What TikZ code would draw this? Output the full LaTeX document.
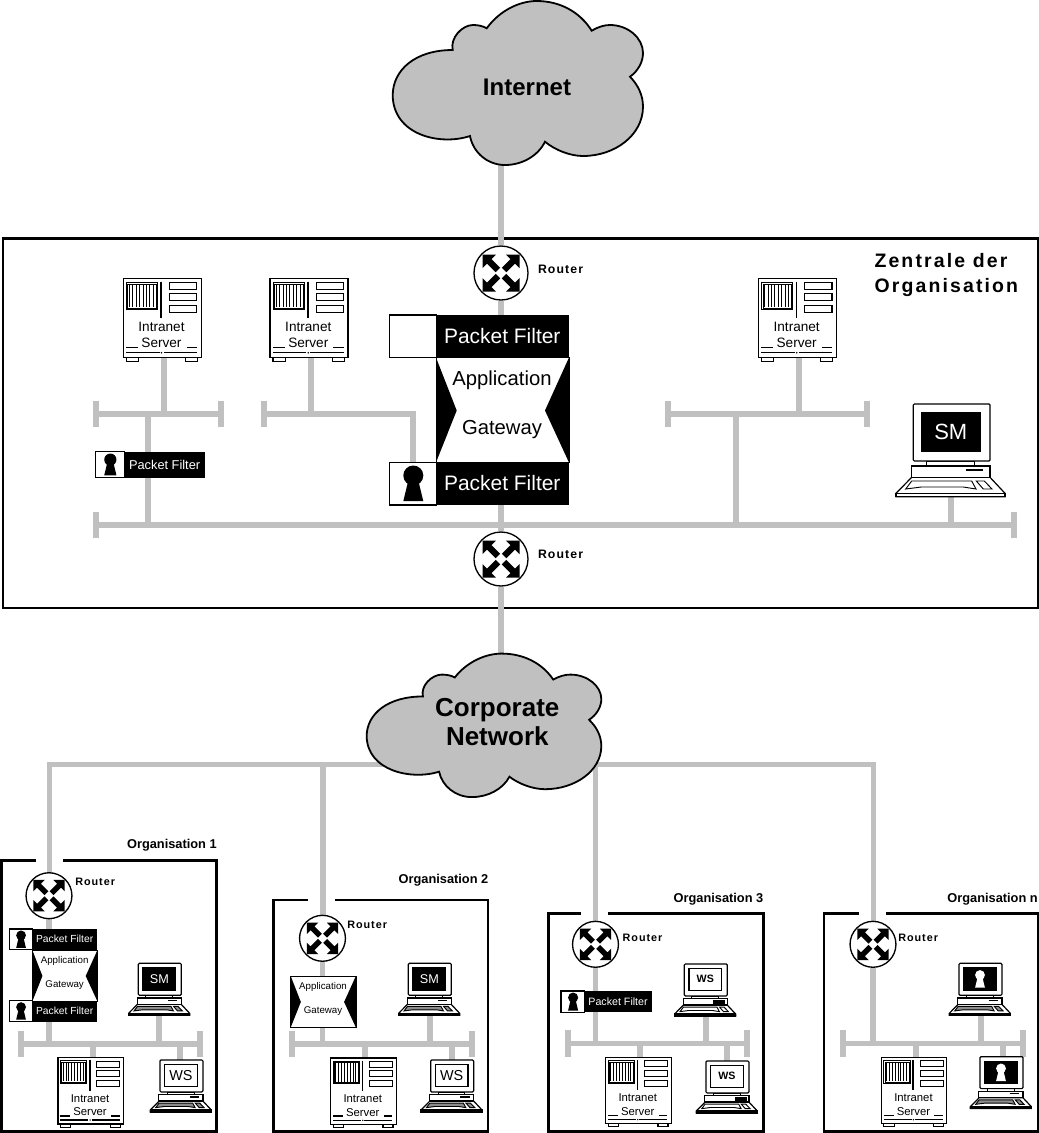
\documentclass[tikz,border=0pt]{standalone}
\usepackage{fontspec}
\setmainfont{Liberation Sans}
\usetikzlibrary{backgrounds}
\definecolor{netgray}{HTML}{C0C0C0}
\tikzset{
  net/.style={draw=netgray,line width=4.3pt},
  dev/.style={line width=.9pt,draw=black},
  frameline/.style={draw=black,line width=1.9pt},
  txt/.style={inner sep=0pt,outer sep=0pt},
  labelR/.style={txt,font=\fontsize{#1}{#1}\selectfont\bfseries\addfontfeature{LetterSpace=9}},
  orgt/.style={txt,anchor=east,font=\fontsize{9.6}{11}\selectfont\bfseries},
}
\newcommand\Fs[1]{\fontsize{#1}{#1}\selectfont}
\newcommand\Keyhole[1]{%
  \fill[#1] (0,-8) circle [radius=10];
  \fill[#1] (-5,-3) -- (5,-3) -- (10,17.7) -- (-10,17.7) -- cycle;}
% name,x,y,scale,font,with keyhole(1/0)
\newcommand\PF[6]{%
  \begin{scope}[shift={(#2,#3)},scale=#4]
    \fill[black] (47,0) rectangle (179.5,42.5);
    \draw[dev,fill=white] (0,0) rectangle (47,42.5);
    \node[txt,white,font=\Fs{#5}] (#1) at (113,21) {Packet Filter};
    \ifnum#6=1 \begin{scope}[shift={(24,21)}]\Keyhole{black}\end{scope}\fi
  \end{scope}}
% name,x,y,scale,font
\newcommand\Gate[5]{%
  \begin{scope}[shift={(#2,#3)},scale=#4]
    \draw[line width=.5pt,draw=black,fill=white] (0,0) rectangle (133,105);
    \fill[black] (0,0) -- (20.7,53) -- (0,105) -- cycle;
    \fill[black] (133,0) -- (109,53) -- (133,105) -- cycle;
    \node[txt,font=\Fs{#5}] (#1-a) at (66,23) {Application};
    \node[txt,font=\Fs{#5}] (#1-g) at (66,72) {Gateway};
  \end{scope}}
% name,x,y,scale
\newcommand\Router[4]{%
  \node[circle,draw=black,line width=1pt,fill=white,inner sep=0pt,minimum size={#4*40.5pt}] (#1) at (#2,#3) {};
  \begin{scope}[shift={(#2,#3)},scale=#4]
    \foreach \a in {0,90,180,270}
      \fill[black,rotate=\a] (18.5,-18.5) -- (5,-18.5) -- (9.5,-14) -- (.8,-5.3) -- (5.3,-.8) -- (14,-9.5) -- (18.5,-5) -- cycle;
  \end{scope}}
% name,x,y,scale,font
\newcommand\Server[5]{%
  \begin{scope}[shift={(#2,#3)},scale=#4]
    \draw[dev,fill=white] (3.7,79) rectangle (16,83.5);
    \draw[dev,fill=white] (63,79) rectangle (75,83.5);
    \node[draw=black,line width=.9pt,fill=white,inner sep=0pt,anchor=north west,minimum width={#4*58.5pt},minimum height={#4*59.2pt}] (#1) at (0,0) {};
    \draw[line width=.7pt] (3.7,4.7) rectangle (35,31.3);
    \draw[line width=.3pt] (5,6) rectangle (33.7,30);
    \foreach \xx in {7,10.4,13.8,17.2,20.6,24,27.4,30.8}
      \draw[line width={#4*.8pt}] (\xx,7) -- (\xx,29);
    \draw[line width=1.1pt] (38.7,4) -- (38.7,40);
    \draw[dev,line width=.8pt] (47,5) rectangle (74.3,12);
    \draw[dev,line width=.8pt] (47,16) rectangle (74.3,23);
    \draw[dev,line width=.8pt] (47,28) rectangle (74.3,35);
    \node[txt,font=\Fs{#5}] (#1-a) at (39,49) {Intranet};
    \node[txt,font=\Fs{#5}] (#1-b) at (39,65.5) {Server};
    \draw[line width=1.1pt] (3.7,70) -- (15.5,70) (64,70) -- (74.3,70);
    \draw[line width=1.1pt] (3.7,75) -- (37,75) (41,75) -- (74.3,75);
    \fill (39,75) circle [radius=.9];
  \end{scope}}
% name,x,y,scale,screen fill,band fill,content
\newcommand\PC[7]{%
  \begin{scope}[shift={(#2,#3)},scale=#4]
    \draw[dev,fill=white] (-17.3,89.3) -- (-1.6,73.3) -- (76.7,73.3) -- (91.7,89.3) -- (91.7,92.7) -- (-17.3,92.7) -- cycle;
    \draw[dev,fill=#6] (-17.3,89.3) -- (91.7,89.3) -- (91.7,92.7) -- (-17.3,92.7) -- cycle;
    \draw[dev,line width=.7pt,fill=#6!45] (-7.6,85) -- (-1.6,77) -- (58.4,77) -- (62.7,85) -- (50,83) -- (8,83) -- cycle;
    \draw[dev,line width=.7pt,fill=#6!45] (63,77) -- (71,77) -- (78.7,85) -- (70,85) -- cycle;
    \draw[dev,fill=white] (13.4,57) rectangle (61,62);
    \draw[dev,fill=white] (-2,62) rectangle (76.7,73.3);
    \draw[line width=.9pt] (52.7,66) -- (69.7,66);
    \draw[dev,fill=white,rounded corners=.8pt] (0,0) rectangle (76.7,57);
    \draw[dev,fill=#5] (8.4,8.3) rectangle (66.7,47.7);
    \coordinate (#1-top) at (37.5,0);
    \coordinate (#1-bot) at (37.5,92.7);
    #7
  \end{scope}}
\newcommand\CloudPath{%
  (470,136) .. controls (440,146) and (393,135) .. (392.7,95)
  .. controls (393,70) and (415,50) .. (452.7,50)
  .. controls (450,38) and (462,25) .. (473,25)
  .. controls (478,25) and (483,26) .. (486.7,28.3)
  .. controls (500,10) and (520,1) .. (536.7,1)
  .. controls (560,1) and (580,12) .. (591.7,30.7)
  .. controls (598,27) and (604,25) .. (610,25)
  .. controls (628,25) and (643,38) .. (643,53)
  .. controls (643,62) and (638,71) .. (630,76.7)
  .. controls (638,85) and (643,95) .. (643,106.7)
  .. controls (643,135) and (615,156) .. (583,156)
  .. controls (570,156) and (555,150) .. (545,141.7)
  .. controls (538,156) and (522,165) .. (505,165)
  .. controls (487,165) and (473,152) .. (470,136) -- cycle}
\newcommand\Bus[4]{%
  \coordinate (#1-l) at (#2,#4);
  \coordinate (#1-r) at (#3,#4);}
\newcommand\DrawBus[1]{%
  \draw[net] (#1-l) -- (#1-r);
  \draw[net] ([yshift=10pt]#1-l) -- ([yshift=-10pt]#1-l);
  \draw[net] ([yshift=10pt]#1-r) -- ([yshift=-10pt]#1-r);}
\begin{document}
\begin{tikzpicture}[x=.75pt,y=-.75pt]
\useasboundingbox (0,0) rectangle (1039,1133);

% --- clouds
\path[draw=black,line width=1.35pt,fill=netgray] \CloudPath;
\node[txt,font=\Fs{18}\bfseries] (internet) at (527,87) {Internet};
\coordinate (inet-bot) at (501,160);
\begin{scope}[shift={(-1.5,652.7)},xscale=.9375,yscale=.875]
  \path[draw=black,line width=1.35pt,fill=netgray] \CloudPath;
\end{scope}
\node[txt,align=center,font=\fontsize{19.5}{21.5}\selectfont\bfseries] (corporate) at (497.3,722) {Corporate\\Network};
\coordinate (corp-top) at (501,660);

% --- central site
\node[txt,anchor=west,align=left,font=\fontsize{14.6}{18.3}\selectfont\bfseries\addfontfeature{LetterSpace=11}] (zentrale) at (874.5,275) {Zentrale der\\Organisation};
\Router{r1}{501}{273}{1}
\node[labelR=9.2,anchor=west] (r1l) at (538,269.5) {Router};
\Router{r2}{501}{559}{1}
\node[labelR=9.2,anchor=west] (r2l) at (538,554) {Router};
\Server{s1}{122.5}{277.7}{1}{10.2}
\Server{s2}{269.3}{277.7}{1}{10.2}
\Server{s3}{757.7}{277.7}{1}{10.2}
\PF{pf1}{389.3}{315}{1}{15.7}{0}
\Gate{gw1}{436}{357.5}{1}{15.2}
\PF{pf2}{389.3}{462.5}{1}{15.7}{1}
\PF{pf3}{95.7}{451.7}{.61}{9.6}{1}
\PC{sm0}{913.3}{404}{1}{black}{white}{\node[txt,white,font=\Fs{16.5}] (sm0t) at (37.5,28) {SM};}

% --- organisation 1
\node[orgt] (o1t) at (216.7,845.7) {Organisation 1};
\Router{r3}{49}{895.7}{.85}
\node[labelR=8.1,anchor=west] (r3l) at (75.3,881.7) {Router};
\PF{pf4}{9.3}{929}{.49}{7.7}{1}
\Gate{gw2}{32.3}{950}{.49}{7.3}
\PF{pf5}{9.3}{1000.7}{.49}{7.7}{1}
\PC{sm1}{138.3}{963.3}{.56}{black}{black}{\node[txt,white,font=\Fs{9.5}] (sm1t) at (37.5,28) {SM};}
\Server{s4}{57.3}{1057}{.84}{8.5}
\PC{ws1}{160}{1060}{.56}{white}{black}{\node[txt,font=\Fs{10.8}] (ws1t) at (37.5,28) {WS};}

% --- organisation 2
\node[orgt] (o2t) at (488.3,880.7) {Organisation 2};
\Router{r4}{322.5}{938.3}{.85}
\node[labelR=8.1,anchor=west] (r4l) at (347.3,925) {Router};
\Gate{gw3}{290.7}{976}{.49}{7.3}
\PC{sm2}{408.3}{963.3}{.56}{black}{black}{\node[txt,white,font=\Fs{9.5}] (sm2t) at (37.5,28) {SM};}
\Server{s5}{330}{1057.3}{.84}{8.5}
\PC{ws2}{430.7}{1060}{.56}{white}{black}{\node[txt,font=\Fs{10.8}] (ws2t) at (37.5,28) {WS};}

% --- organisation 3
\node[orgt] (o3t) at (763.3,899) {Organisation 3};
\Router{r5}{595.5}{944.3}{.85}
\node[labelR=8.1,anchor=west] (r5l) at (622.7,938.3) {Router};
\PF{pf6}{561}{991}{.505}{8}{1}
\PC{ws3}{684.3}{964}{.56}{white}{white}{\node[txt,font=\Fs{8}\bfseries] (ws3t) at (37.5,26) {WS};\fill (52,64) rectangle (73,71);}
\Server{s6}{605}{1056.7}{.84}{8.5}
\PC{ws4}{706}{1061}{.56}{white}{white}{\node[txt,font=\Fs{8}\bfseries] (ws4t) at (37.5,26) {WS};\fill (52,64) rectangle (73,71);}

% --- organisation n
\node[orgt] (o4t) at (1037.7,899) {Organisation n};
\Router{r6}{873}{944.3}{.85}
\node[labelR=8.1,anchor=west] (r6l) at (898.3,938.3) {Router};
\PC{pc1}{959}{963.3}{.56}{black}{black}{\begin{scope}[shift={(37.5,28)},scale=.88]\Keyhole{white}\end{scope}}
\Server{s7}{880.7}{1056.7}{.84}{8.5}
\PC{pc2}{980}{1056.7}{.56}{black}{black}{\begin{scope}[shift={(37.5,28)},scale=.88]\Keyhole{white}\end{scope}}

% --- bus coordinates
\Bus{mb}{96}{1014}{525}
\Bus{b1}{96}{221}{414}
\Bus{b2}{264}{413.3}{414}
\Bus{b3}{668}{867}{414}
\Bus{ob1}{21}{200}{1044}
\Bus{ob2}{292}{471.7}{1044}
\Bus{ob3}{568}{747}{1043.5}
\Bus{ob4}{842.7}{1023.3}{1043.5}
\coordinate (c1) at (49.5,764.5);
\coordinate (c2) at (323,764.5);
\coordinate (c3) at (595.5,764.5);
\coordinate (c4) at (873.5,764.5);

\begin{pgfonlayer}{background}
  % frames
  \draw[frameline] (3,238.5) rectangle (1038.5,608);
  \draw[frameline] (36,860.7) -| (1.7,1131.7) -| (216.7,860.7) -- (63,860.7);
  \draw[frameline] (307.7,900) -| (273.3,1131.7) -| (488,900) -- (335,900);
  \draw[frameline] (580.7,913.3) -| (548.3,1131.7) -| (763.3,913.3) -- (608.3,913.3);
  \draw[frameline] (859,913.3) -| (824,1131.7) -| (1038.5,913.3) -- (886,913.3);
  % central connectors
  \draw[net] (inet-bot) -- (r1);
  \draw[net] (r1) -- (r2);
  \draw[net] (r2) -- (corp-top);
  \DrawBus{mb}
  \draw[net] ([yshift=10pt]b1-l) -- ([yshift=-10pt]b1-l);
  \draw[net] ([yshift=10pt]b1-r) -- ([yshift=-10pt]b1-r);
  \draw[net] (b1-l) -- (b1-r);
  \draw[net] ([yshift=10pt]b2-l) -- ([yshift=-10pt]b2-l);
  \draw[net] (b2-l) -- (b2-r) -- (pf2.north -| b2-r);
  \DrawBus{b3}
  \draw[net] (s1.south -| 164,0) -- (164,414);
  \draw[net] (s2.south -| 311,0) -- (311,414);
  \draw[net] (s3.south -| 799,0) -- (799,414);
  \draw[net] (147.7,414) -- (147.7,525);
  \draw[net] (736,414) -- (736,525);
  \draw[net] (sm0-bot -| 951,0) -- (951,525);
  % corporate bus
  \draw[net] (c1 |- r3) -- (c1) -- (c4) -- (c4 |- r6);
  \draw[net] (c2) -- (c2 |- r4);
  \draw[net] (c3) -- (c3 |- r5);
  % organisation 1
  \DrawBus{ob1}
  \draw[net] (r3) -- (49,1044);
  \draw[net] (sm1-bot -| 159,0) -- (159,1044);
  \draw[net] (92.7,1044) -- (s4.north -| 92.7,0);
  \draw[net] (180,1044) -- (ws1-top -| 180,0);
  % organisation 2
  \DrawBus{ob2}
  \draw[net] (r4) -- (322.5,1044);
  \draw[net] (sm2-bot -| 430,0) -- (430,1044);
  \draw[net] (365,1044) -- (s5.north -| 365,0);
  \draw[net] (452,1044) -- (ws2-top -| 452,0);
  % organisation 3
  \DrawBus{ob3}
  \draw[net] (r5) -- (595.5,1043.5);
  \draw[net] (ws3-bot -| 705.7,0) -- (705.7,1043.5);
  \draw[net] (640,1043.5) -- (s6.north -| 640,0);
  \draw[net] (726.7,1043.5) -- (ws4-top -| 726.7,0);
  % organisation n
  \DrawBus{ob4}
  \draw[net] (r6) -- (873,1043.5);
  \draw[net] (pc1-bot -| 981,0) -- (981,1043.5);
  \draw[net] (916,1043.5) -- (s7.north -| 916,0);
  \draw[net] (1002.7,1043.5) -- (pc2-top -| 1002.7,0);
\end{pgfonlayer}
\end{tikzpicture}
\end{document}
